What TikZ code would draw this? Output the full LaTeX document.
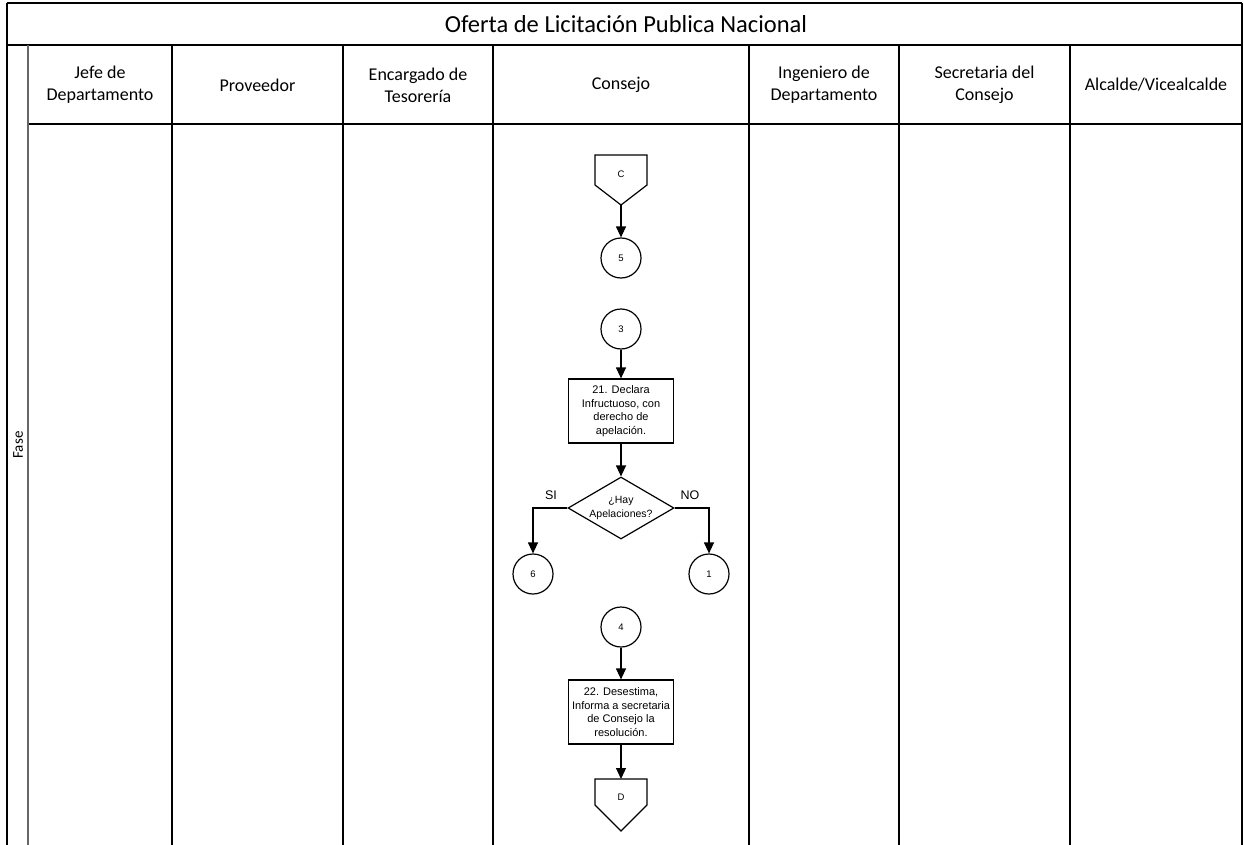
\documentclass[tikz,border=0pt]{standalone}
\usepackage{fontspec}
\setmainfont{Carlito}
\newfontfamily\shapefont{Liberation Sans}
\usetikzlibrary{arrows.meta,shapes.geometric}

\begin{document}
\begin{tikzpicture}[x=1pt,y=-1pt,
  frame/.style={line width=2pt,black},
  lane/.style={line width=1.5pt,black},
  phaseline/.style={line width=1.5pt,black!60},
  hdr/.style={font=\fontsize{18}{22}\selectfont,align=center,inner sep=0pt},
  procbox/.style={draw,line width=1.2pt,rectangle,minimum width=105pt,minimum height=64pt,
    align=center,inner sep=0pt,font=\shapefont\fontsize{11}{13.5}\selectfont},
  conn/.style={draw,line width=1.2pt,circle,minimum size=40pt,inner sep=0pt,
    font=\shapefont\fontsize{9.5}{10}\selectfont},
  decision/.style={draw,line width=1.2pt,diamond,aspect=1.7,inner sep=0pt,
    minimum width=106pt,minimum height=62pt,align=center,
    font=\shapefont\fontsize{10.5}{13.5}\selectfont},
  offpage/.style={line width=1.2pt},
  lbl/.style={font=\shapefont\fontsize{12.5}{14}\selectfont,inner sep=0pt},
  arr/.style={line width=1.2pt,-{Triangle[length=11pt,width=10pt]}}]

\useasboundingbox (0,0) rectangle (1244,845);

% swimlane table
\draw[frame] (7,3) -- (1242,3);
\draw[frame] (7,3) -- (7,845);
\draw[frame] (1242,3) -- (1242,845);
\draw[lane] (7,45) -- (1242,45);
\draw[lane] (28,124) -- (1242,124);
\draw[phaseline] (28,45) -- (28,845);
\foreach \xx in {172,343,493,749,899,1070}
  \draw[lane] (\xx,45) -- (\xx,845);

\node[font=\fontsize{24.5}{28}\selectfont] (title) at (626,24) {Oferta de Licitación Publica Nacional};
\node[font=\fontsize{15}{18}\selectfont,rotate=90] (fase) at (18,445) {Fase};

\node[hdr] (h1) at (100,85) {Jefe de\\Departamento};
\node[hdr] (h2) at (257.5,85) {Proveedor};
\node[hdr] (h3) at (418,85) {Encargado de\\Tesorería};
\node[hdr] (h4) at (621,85) {Consejo};
\node[hdr] (h5) at (824,85) {Ingeniero de\\Departamento};
\node[hdr] (h6) at (984.5,85) {Secretaria del\\Consejo};
\node[hdr] (h7) at (1156,85) {Alcalde/Vicealcalde};

% off-page connector C
\draw[offpage] (595,155) -- (647,155) -- (647,185) -- (621,205) -- (595,185) -- cycle;
\node[font=\shapefont\fontsize{9.5}{10}\selectfont] (offC) at (621,174) {C};
\coordinate (offCtip) at (621,205);

\node[conn] (c5) at (621,258) {5};
\node[conn] (c3) at (621,329) {3};
\node[procbox] (p21) at (621,411) {21. Declara\\Infructuoso, con\\derecho de\\apelación.};
\node[decision] (dec) at (621,508) {¿Hay\\Apelaciones?};
\node[conn] (c6) at (533,574) {6};
\node[conn] (c1) at (709,574) {1};
\node[conn] (c4) at (621,627) {4};
\node[procbox] (p22) at (621,712) {22. Desestima,\\Informa a secretaria\\de Consejo la\\resolución.};

% off-page connector D
\draw[offpage] (595,779) -- (647,779) -- (647,805) -- (621,831) -- (595,805) -- cycle;
\node[font=\shapefont\fontsize{9.5}{10}\selectfont] (offD) at (621,797) {D};
\coordinate (offDtop) at (621,779);

% connectors
\draw[arr] (offCtip) -- (c5.north);
\draw[arr] (c3.south) -- (p21.north);
\draw[arr] (p21.south) -- (dec.north);
\draw[arr] (dec.west) -| (c6.north);
\draw[arr] (dec.east) -| (c1.north);
\draw[arr] (c4.south) -- (p22.north);
\draw[arr] (p22.south) -- (offDtop);

\node[lbl] (si) at (551,495) {SI};
\node[lbl] (no) at (690,495) {NO};
\end{tikzpicture}
\end{document}
